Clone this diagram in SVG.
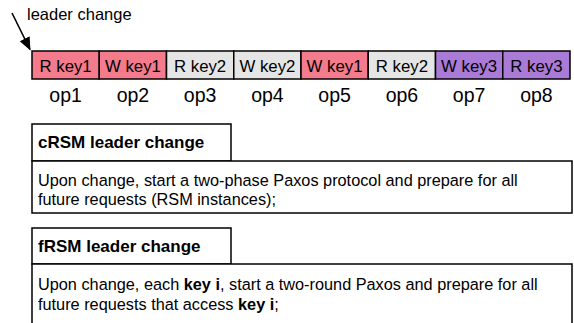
<svg xmlns="http://www.w3.org/2000/svg" width="574" height="323" viewBox="0 0 574 323">
<style>
text{font-family:"Liberation Sans",Arial,sans-serif;fill:#000}
.op rect{stroke:#000;stroke-width:1.5}
.op text{font-size:16.8px;text-anchor:middle}
.lbl{font-size:19.5px;text-anchor:middle}
.r{fill:#f37b8b}.g{fill:#e5e5e5}.p{fill:#a97ad6}
.box{fill:#fff;stroke:#000;stroke-width:1.5}
.hd{font-size:17px;font-weight:bold}
.bd{font-size:16.3px}
</style>
<defs>
<marker id="ah" markerWidth="14" markerHeight="14" refX="12" refY="7" orient="auto" markerUnits="userSpaceOnUse">
<path d="M0,1.5 L13,7 L0,12.5 Z" fill="#000"/>
</marker>
</defs>
<g id="connectors">
<line x1="12" y1="13" x2="30" y2="49.5" stroke="#000" stroke-width="1.6" marker-end="url(#ah)"/>
</g>
<g id="leader-label"><text x="27" y="20" font-size="16.5">leader change</text></g>
<g id="op1" class="op"><rect class="r" x="32" y="51" width="67.25" height="28"/><text x="65.6" y="71.5">R key1</text></g>
<g id="op2" class="op"><rect class="r" x="99.25" y="51" width="67.25" height="28"/><text x="132.9" y="71.5">W key1</text></g>
<g id="op3" class="op"><rect class="g" x="166.5" y="51" width="67.25" height="28"/><text x="200.1" y="71.5">R key2</text></g>
<g id="op4" class="op"><rect class="g" x="233.75" y="51" width="67.25" height="28"/><text x="267.4" y="71.5">W key2</text></g>
<g id="op5" class="op"><rect class="r" x="301" y="51" width="67.25" height="28"/><text x="334.6" y="71.5">W key1</text></g>
<g id="op6" class="op"><rect class="g" x="368.25" y="51" width="67.25" height="28"/><text x="401.9" y="71.5">R key2</text></g>
<g id="op7" class="op"><rect class="p" x="435.5" y="51" width="67.25" height="28"/><text x="469.1" y="71.5">W key3</text></g>
<g id="op8" class="op"><rect class="p" x="502.75" y="51" width="67.25" height="28"/><text x="536.4" y="71.5">R key3</text></g>
<g id="op-labels">
<text class="lbl" x="65.6" y="102">op1</text>
<text class="lbl" x="132.9" y="102">op2</text>
<text class="lbl" x="200.1" y="102">op3</text>
<text class="lbl" x="267.4" y="102">op4</text>
<text class="lbl" x="334.6" y="102">op5</text>
<text class="lbl" x="401.9" y="102">op6</text>
<text class="lbl" x="469.1" y="102">op7</text>
<text class="lbl" x="536.4" y="102">op8</text>
</g>
<g id="crsm">
<rect class="box" x="32" y="124" width="199" height="37"/>
<text class="hd" x="38" y="148">cRSM leader change</text>
<rect class="box" x="32" y="161" width="540" height="52"/>
<text class="bd" x="38" y="186">Upon change, start a two-phase Paxos protocol and prepare for all</text>
<text class="bd" x="38" y="205">future requests (RSM instances);</text>
</g>
<g id="frsm">
<rect class="box" x="32" y="228" width="199" height="36"/>
<text class="hd" x="38" y="252">fRSM leader change</text>
<path class="box" d="M32,324 V264 H572 V324"/>
<text class="bd" x="38" y="290">Upon change, each <tspan font-weight="bold">key i</tspan>, start a two-round Paxos and prepare for all</text>
<text class="bd" x="38" y="310">future requests that access <tspan font-weight="bold">key i</tspan>;</text>
</g>
</svg>
